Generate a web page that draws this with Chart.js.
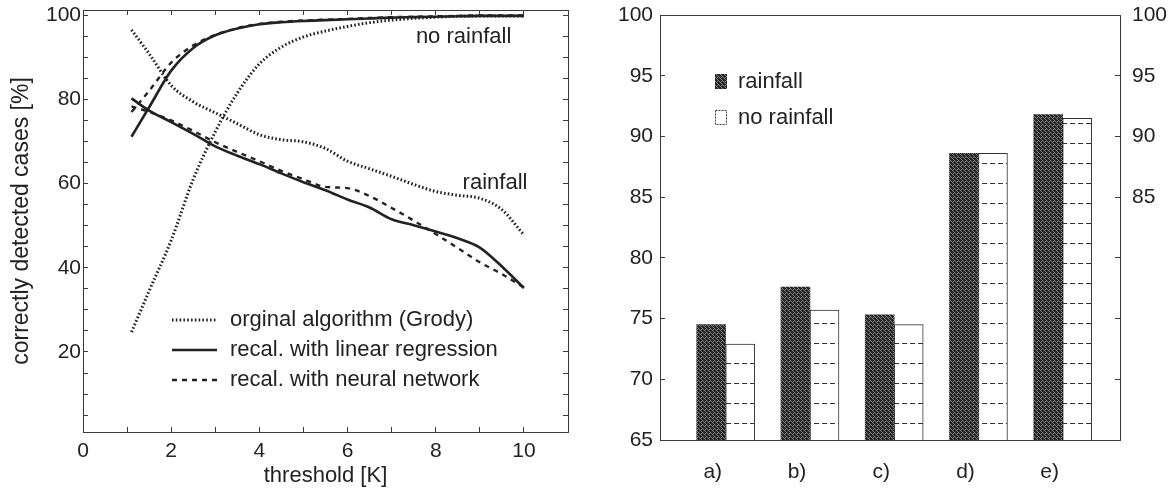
<!DOCTYPE html>
<html>
<head>
<meta charset="utf-8">
<script src="https://cdn.jsdelivr.net/npm/chart.js@4.4.1/dist/chart.umd.min.js"></script>
<style>
  html, body { margin: 0; padding: 0; background: #fff; }
  #wrap { position: relative; width: 1169px; height: 492px; overflow: hidden; }
  #lineChart { position: absolute; left: 0; top: 0; }
  #barChart { position: absolute; left: 590px; top: 0; }
</style>
</head>
<body>
<div id="wrap">
  <canvas id="lineChart" width="590" height="492"></canvas>
  <canvas id="barChart" width="579" height="492"></canvas>
</div>
<script>
const thresholds = [1.1, 1.5, 2, 2.5, 3, 3.5, 4, 4.5, 5, 5.5, 6, 6.5, 7, 7.5, 8, 8.5, 9, 9.5, 10];

// correctly detected cases [%]
const grodyRain   = [96.5, 90.8, 83.3, 79.4, 76.8, 74.2, 71.6, 70.4, 69.9, 68.3, 65.3, 63.5, 61.7, 59.8, 58.1, 57.2, 56.5, 53.8, 47.8];
const grodyNoRain = [24.7, 34.5, 46.5, 61.0, 72.3, 81.5, 88.4, 92.4, 94.8, 96.2, 97.3, 98.2, 98.8, 99.2, 99.5, 99.7, 99.8, 99.8, 99.8];
const linRain     = [80.2, 77.3, 74.6, 71.8, 68.8, 66.6, 64.6, 62.4, 60.3, 58.4, 56.2, 54.3, 51.5, 50.1, 48.6, 47.0, 44.8, 40.3, 35.2];
const linNoRain   = [71.1, 78.1, 86.8, 92.2, 95.2, 96.8, 97.8, 98.3, 98.6, 98.8, 99.0, 99.2, 99.4, 99.5, 99.6, 99.7, 99.8, 99.8, 99.8];
const nnRain      = [78.3, 77.0, 75.0, 72.5, 69.8, 67.5, 65.3, 63.0, 61.0, 59.2, 58.9, 57.0, 54.2, 51.2, 48.0, 44.7, 41.3, 38.5, 35.3];
const nnNoRain    = [77.0, 82.0, 88.7, 92.8, 95.3, 96.9, 97.9, 98.4, 98.7, 98.9, 99.1, 99.3, 99.5, 99.6, 99.7, 99.8, 99.9, 99.9, 99.9];

const methodLabels = ['orginal algorithm (Grody)', 'recal. with linear regression', 'recal. with neural network'];
const curveLabels = ['no rainfall', 'rainfall'];
const xTitle = 'threshold [K]';
const yTitle = 'correctly detected cases [%]';

// bar panel
const cases = ['a)', 'b)', 'c)', 'd)', 'e)'];
const rainfallPct = [74.5, 77.6, 75.3, 88.6, 91.8];
const noRainfallPct = [72.9, 75.7, 74.5, 88.6, 91.5];
const barLegend = ['rainfall', 'no rainfall'];

const ink = '#222';
const axisInk = '#3a3a3a';
const fontFamily = '"Liberation Sans", Arial, Helvetica, sans-serif';

Chart.defaults.font.family = fontFamily;
Chart.defaults.font.size = 21;
Chart.defaults.color = ink;

// line styles for the three methods
const methodStyles = [
    { dash: [1.6, 2.2], width: 3 },
    { dash: [], width: 2.6 },
    { dash: [5, 5], width: 2.4 }
];

function curve(label, values, style) {
    return {
        label: label,
        data: thresholds.map((t, i) => ({ x: t, y: values[i] })),
        borderColor: ink,
        borderWidth: style.width,
        borderDash: style.dash,
        pointRadius: 0,
        fill: false,
        cubicInterpolationMode: 'monotone'
    };
}

// dark cross hatch for the rainfall bars
function darkHatch() {
    const c = document.createElement('canvas');
    c.width = 4; c.height = 4;
    const g = c.getContext('2d');
    g.fillStyle = '#262626';
    g.fillRect(0, 0, 4, 4);
    g.fillStyle = '#808080';
    for (let i = 0; i < 4; i++) {
        g.fillRect(i, i, 1, 1);
    }
    g.fillRect(3, 1, 1, 1);
    return g.createPattern(c, 'repeat');
}

// white with dashed horizontal lines for the no rainfall bars
function lineHatch() {
    const c = document.createElement('canvas');
    c.width = 8; c.height = 20;
    const g = c.getContext('2d');
    g.fillStyle = '#fff';
    g.fillRect(0, 0, 8, 20);
    g.fillStyle = '#333';
    g.fillRect(0, 3, 5, 1);
    return g.createPattern(c, 'repeat');
}

// texts and legends drawn inside the plot area
const notesPlugin = {
    id: 'notes',
    afterDatasetsDraw(chart, args, opts) {
        const ctx = chart.ctx;
        ctx.save();
        ctx.font = '22px ' + fontFamily;
        ctx.fillStyle = ink;
        ctx.textAlign = 'left';
        ctx.textBaseline = 'middle';
        (opts.texts || []).forEach(t => {
            ctx.fillText(t.text, chart.scales.x.getPixelForValue(t.x), chart.scales.y.getPixelForValue(t.y));
        });
        (opts.items || []).forEach(item => {
            if (item.kind === 'line') {
                ctx.strokeStyle = ink;
                ctx.lineWidth = item.style.width;
                ctx.setLineDash(item.style.dash);
                ctx.beginPath();
                ctx.moveTo(item.x, item.y);
                ctx.lineTo(item.x + 45, item.y);
                ctx.stroke();
                ctx.setLineDash([]);
            } else {
                ctx.fillStyle = item.fill;
                ctx.fillRect(item.x, item.y - 8, 12, 15);
                if (item.outline) {
                    ctx.strokeStyle = '#444';
                    ctx.lineWidth = 1;
                    ctx.setLineDash([2, 1]);
                    ctx.strokeRect(item.x + 0.5, item.y - 7.5, 11, 14);
                    ctx.setLineDash([]);
                }
                ctx.fillStyle = ink;
            }
            ctx.fillText(item.text, item.x + item.gap, item.y);
        });
        ctx.restore();
    }
};

// axis with inward tick marks and a fixed box size
function frameAxis(position, min, max, step, size, extra) {
    const axis = {
        type: 'linear',
        position: position,
        min: min,
        max: max,
        offset: false,
        ticks: { stepSize: step, display: false, autoSkip: false, maxRotation: 0, includeBounds: false },
        grid: { drawOnChartArea: false, tickLength: -5, tickColor: axisInk, offset: false },
        border: { color: axisInk, dash: [3, 1], width: 1 },
        afterFit: s => {
            if (position === 'top' || position === 'bottom') s.height = size; else s.width = size;
            s.paddingTop = 0; s.paddingBottom = 0; s.paddingLeft = 0; s.paddingRight = 0;
        }
    };
    return Object.assign(axis, extra || {});
}

// left panel: detection rate vs threshold
const lineCtx = document.getElementById('lineChart').getContext('2d');
new Chart(lineCtx, {
    type: 'line',
    data: {
        datasets: [
            curve(methodLabels[0] + ' ' + curveLabels[1], grodyRain, methodStyles[0]),
            curve(methodLabels[0] + ' ' + curveLabels[0], grodyNoRain, methodStyles[0]),
            curve(methodLabels[1] + ' ' + curveLabels[1], linRain, methodStyles[1]),
            curve(methodLabels[1] + ' ' + curveLabels[0], linNoRain, methodStyles[1]),
            curve(methodLabels[2] + ' ' + curveLabels[1], nnRain, methodStyles[2]),
            curve(methodLabels[2] + ' ' + curveLabels[0], nnNoRain, methodStyles[2])
        ]
    },
    options: {
        responsive: false,
        animation: false,
        events: [],
        layout: { padding: 0 },
        plugins: {
            legend: { display: false },
            tooltip: { enabled: false },
            notes: {
                texts: [
                    { text: curveLabels[0], x: 7.55, y: 94.8 },
                    { text: curveLabels[1], x: 8.61, y: 60.2 }
                ],
                items: methodLabels.map((m, i) => ({
                    kind: 'line', style: methodStyles[i], text: m, x: 172, y: 320 + i * 30, gap: 58
                }))
            }
        },
        scales: {
            x: frameAxis('bottom', 0, 11, 1, 60, {
                ticks: { stepSize: 1, autoSkip: false, maxRotation: 0, padding: 12,
                         callback: v => (v % 2 === 0 ? v : '') },
                title: { display: true, text: xTitle, font: { size: 22 }, padding: { top: 0, bottom: 3 } }
            }),
            xTop: frameAxis('top', 0, 11, 1, 10),
            y: frameAxis('left', 1, 101.2, 5, 83, {
                ticks: { stepSize: 5, autoSkip: false, padding: 7, includeBounds: false,
                         callback: v => (v % 20 === 0 && v > 0 ? v : '') },
                title: { display: true, text: yTitle, font: { size: 23 }, padding: { top: 8, bottom: 0 } }
            }),
            yRight: frameAxis('right', 1, 101.2, 5, 22)
        }
    },
    plugins: [notesPlugin]
});

// right panel: bar comparison
const darkFill = darkHatch();
const lineFill = lineHatch();
const barCtx = document.getElementById('barChart').getContext('2d');
new Chart(barCtx, {
    type: 'bar',
    data: {
        datasets: [
            {
                label: barLegend[0],
                data: cases.map((c, i) => ({ x: i + 1, y: rainfallPct[i] })),
                backgroundColor: darkFill,
                borderWidth: 0,
                barThickness: 29
            },
            {
                label: barLegend[1],
                data: cases.map((c, i) => ({ x: i + 1, y: noRainfallPct[i] })),
                backgroundColor: lineFill,
                borderColor: '#333',
                borderWidth: 1,
                barThickness: 29
            }
        ]
    },
    options: {
        responsive: false,
        animation: false,
        events: [],
        layout: { padding: 0 },
        plugins: {
            legend: { display: false },
            tooltip: { enabled: false },
            notes: {
                items: [
                    { kind: 'box', fill: darkFill, text: barLegend[0], x: 125, y: 82, gap: 23 },
                    { kind: 'box', fill: '#fff', outline: true, text: barLegend[1], x: 125, y: 118, gap: 23 }
                ]
            }
        },
        scales: {
            x: frameAxis('bottom', 0.22, 5.68, 1, 52, {
                ticks: { stepSize: 1, autoSkip: false, maxRotation: 0, padding: 20, labelOffset: -13, includeBounds: false,
                         callback: v => (Number.isInteger(v) && v >= 1 && v <= 5 ? cases[v - 1] : '') },
                grid: { drawOnChartArea: false, drawTicks: false, offset: false }
            }),
            xTop: frameAxis('top', 0.22, 5.68, 1, 15, {
                grid: { drawOnChartArea: false, drawTicks: false, offset: false }
            }),
            y: frameAxis('left', 65, 100, 5, 70, {
                ticks: { stepSize: 5, autoSkip: false, padding: 12 }
            }),
            yRight: frameAxis('right', 65, 100, 5, 49, {
                ticks: { stepSize: 5, autoSkip: false, padding: 17,
                         callback: v => (v >= 85 ? v : '') }
            })
        }
    },
    plugins: [notesPlugin]
});
</script>
</body>
</html>
